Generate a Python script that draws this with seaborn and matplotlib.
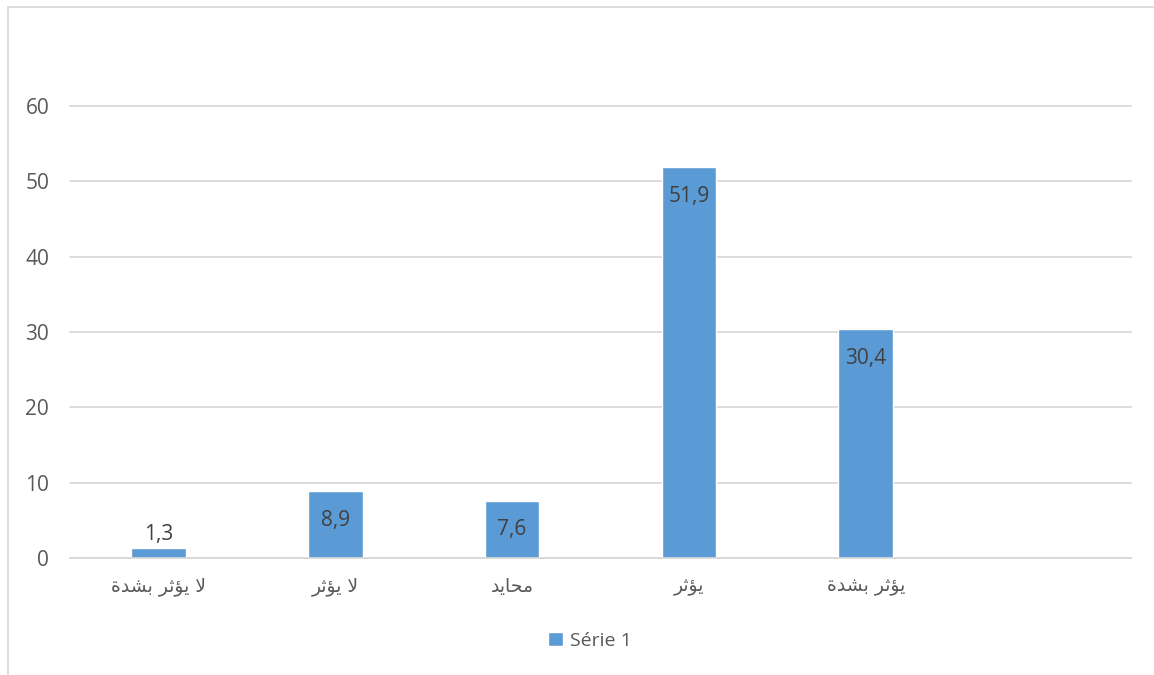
import matplotlib
matplotlib.use('Agg')
import matplotlib.pyplot as plt
import seaborn as sns
from matplotlib.patches import Rectangle

categories = ['لا يؤثر بشدة', 'لا يؤثر', 'محايد', 'يؤثر', 'يؤثر بشدة']
values = [1.3, 8.9, 7.6, 51.9, 30.4]
series_name = 'Série 1'
y_ticks = [0, 10, 20, 30, 40, 50, 60]

# minimal arabic shaping: (isolated, final, initial, medial)
FORMS = {
    'ا': ('\uFE8D', '\uFE8E', None, None),
    'ب': ('\uFE8F', '\uFE90', '\uFE91', '\uFE92'),
    'ة': ('\uFE93', '\uFE94', None, None),
    'ث': ('\uFE99', '\uFE9A', '\uFE9B', '\uFE9C'),
    'ح': ('\uFEA1', '\uFEA2', '\uFEA3', '\uFEA4'),
    'د': ('\uFEA9', '\uFEAA', None, None),
    'ر': ('\uFEAD', '\uFEAE', None, None),
    'ش': ('\uFEB5', '\uFEB6', '\uFEB7', '\uFEB8'),
    'ل': ('\uFEDD', '\uFEDE', '\uFEDF', '\uFEE0'),
    'م': ('\uFEE1', '\uFEE2', '\uFEE3', '\uFEE4'),
    'ي': ('\uFEF1', '\uFEF2', '\uFEF3', '\uFEF4'),
    'ؤ': ('\uFE85', '\uFE86', None, None),
    '\uFEFB': ('\uFEFB', '\uFEFC', None, None),  # lam-alef
}


def shape(text):
    chars = list(text.replace('لا', '\uFEFB'))
    out = []
    for i, c in enumerate(chars):
        if c not in FORMS:
            out.append(c)
            continue
        prev = chars[i - 1] if i > 0 else ''
        nxt = chars[i + 1] if i + 1 < len(chars) else ''
        jp = prev in FORMS and FORMS[prev][2] is not None
        jn = FORMS[c][2] is not None and nxt in FORMS
        if jp and jn:
            out.append(FORMS[c][3])
        elif jp:
            out.append(FORMS[c][1])
        elif jn:
            out.append(FORMS[c][2])
        else:
            out.append(FORMS[c][0])
    return ''.join(reversed(out))


sns.set_theme(style='white')
plt.rcParams['font.family'] = ['Open Sans', 'DejaVu Sans']

bar_color = '#5B9BD5'
grid_color = '#D9D9D9'
text_color = '#595959'

fig = plt.figure(figsize=(11.54, 6.75), dpi=100)
ax = fig.add_axes([70 / 1154, 1 - 558 / 675, (1131 - 70) / 1154, (558 - 106) / 675])

labels = [shape(c) for c in categories]
sns.barplot(x=labels, y=values, color=bar_color, width=0.31, saturation=1,
            label=series_name, ax=ax)
if ax.get_legend() is not None:
    ax.get_legend().remove()

ax.set_xlim(-0.5, 5.5)
ax.set_ylim(0, 60)
ax.set_yticks(y_ticks)
ax.yaxis.grid(True, color=grid_color, linewidth=1.3)
ax.set_axisbelow(True)
for s in ['top', 'right', 'left']:
    ax.spines[s].set_visible(False)
ax.spines['bottom'].set_color(grid_color)
ax.spines['bottom'].set_linewidth(1.3)
ax.tick_params(axis='both', length=0, colors=text_color)
ax.tick_params(axis='y', pad=15, labelsize=15)
ax.tick_params(axis='x', pad=14)
for t in ax.get_xticklabels():
    t.set_family('DejaVu Sans')
    t.set_fontsize(13.5)
ax.set_xlabel('')
ax.set_ylabel('')
for gl in ax.get_ygridlines():
    gl.set_clip_on(False)

for i, v in enumerate(values):
    txt = f'{v:.1f}'.replace('.', ',')
    if v > 5:
        off = -21
    else:
        off = 10
    ax.annotate(txt, (i, v), xytext=(0, off), textcoords='offset points',
                ha='center', va='center', fontsize=15, color='#404040')

handles, leg_labels = ax.get_legend_handles_labels()
leg = fig.legend(handles[:1], [series_name], loc='center',
                 bbox_to_anchor=(590 / 1154, 1 - 641 / 675),
                 frameon=False, fontsize=14, handlelength=0.75, handleheight=0.75,
                 handletextpad=0.35)
for t in leg.get_texts():
    t.set_color(text_color)

fig.add_artist(Rectangle((8 / 1154, -0.1), 1.2, 1.1 - 7 / 675, transform=fig.transFigure,
                         fill=False, edgecolor=grid_color, linewidth=1.3))

fig.savefig('out.png', dpi=100)
